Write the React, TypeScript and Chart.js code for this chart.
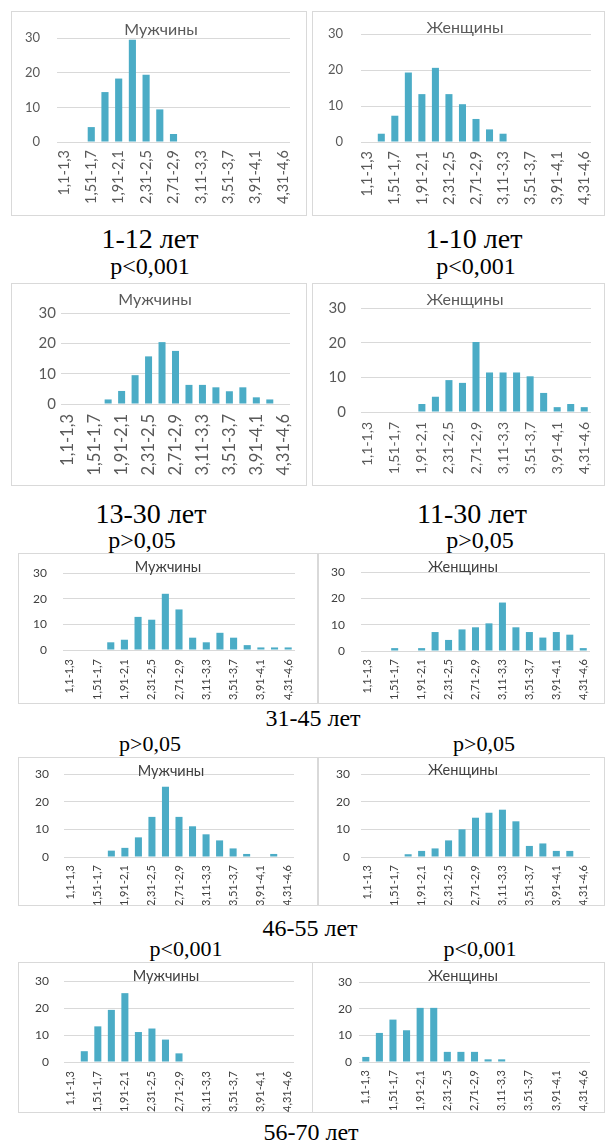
import React, { useEffect, useRef } from "react";
import { Chart, registerables } from "chart.js";
Chart.register(...registerables);

// ---------- data ----------
const binLabels = [
  "1,1-1,3", "1,31-1,5", "1,51-1,7", "1,71-1,9", "1,91-2,1", "2,11-2,3",
  "2,31-2,5", "2,51-2,7", "2,71-2,9", "2,91-3,1", "3,11-3,3", "3,31-3,5",
  "3,51-3,7", "3,71-3,9", "3,91-4,1", "4,11-4,3", "4,31-4,6",
];
const yTicks = [0, 10, 20, 30];

const male1_12 = [0, 0, 4.3, 14.4, 18.3, 29.5, 19.4, 9.4, 2.3, 0, 0, 0, 0, 0, 0, 0, 0];
const female1_10 = [0, 2.3, 7.3, 19.3, 13.3, 20.6, 13.3, 10.5, 6.4, 3.5, 2.3, 0, 0, 0, 0, 0, 0];
const male13_30 = [0, 0, 0, 1.5, 4.3, 9.5, 15.7, 20.4, 17.5, 6.3, 6.3, 5.5, 4.2, 5.5, 2.2, 1.5, 0];
const female11_30 = [0, 0, 0, 0, 2.3, 4.4, 9.2, 8.4, 20.2, 11.4, 11.4, 11.4, 10.3, 5.5, 1.4, 2.3, 1.4];
const male31_45 = [0, 0, 0, 3.0, 4.0, 12.9, 11.8, 21.9, 15.8, 4.8, 3.0, 6.7, 4.8, 1.9, 1.0, 1.0, 1.0];
const female31_45 = [0, 0, 1.1, 0, 1.1, 7.2, 4.2, 8.2, 9.0, 10.5, 18.4, 9.0, 7.2, 5.1, 7.2, 6.2, 1.1];
const male46_55 = [0, 0, 0, 2.3, 3.3, 7.1, 14.5, 25.4, 14.5, 11.1, 8.2, 6.0, 3.1, 1.1, 0, 1.1, 0];
const female46_55 = [0, 0, 0, 1.0, 2.2, 3.1, 6.0, 10.0, 14.2, 16.0, 17.1, 12.9, 4.0, 4.9, 2.2, 2.2, 0];
const male56_70 = [0, 4.0, 13.2, 19.3, 25.5, 11.1, 12.4, 8.3, 3.2, 0, 0, 0, 0, 0, 0, 0, 0];
const female56_70 = [1.9, 10.9, 15.9, 11.9, 20.3, 20.3, 3.8, 3.8, 3.8, 1.0, 1.0, 0, 0, 0, 0, 0, 0];

const titleMale = "Мужчины";
const titleFemale = "Женщины";

// ---------- styles ----------
const BAR = "#4bacc6";
const GRID = "#d9d9d9";
const TEXT = "#595959";
const TEXT_DARK = "#404040";
const FONT = "Lato, 'Liberation Sans', Arial, sans-serif";
const SERIF = "'Liberation Serif', 'Times New Roman', serif";

type Panel = {
  title: string;
  values: number[];
  box: [number, number, number, number];
  plot: [number, number, number, number];
  titleX: number;
  titleY: number;
  tickSize: number;
  yPad: number;
  xSize: number;
  xPad: number;
  titleSize: number;
  extra: number;
  color: string;
};

const panels: Panel[] = [
  { title: titleMale, values: male1_12, box: [11, 11, 296, 205], plot: [57, 290, 38, 142], titleX: 161, titleY: 30, tickSize: 13, yPad: 17, xSize: 14.5, xPad: 8, titleSize: 16, extra: 0, color: TEXT },
  { title: titleFemale, values: female1_10, box: [312, 11, 293, 205], plot: [361, 591, 34, 142], titleX: 465, titleY: 28, tickSize: 13, yPad: 18, xSize: 14.5, xPad: 9, titleSize: 16, extra: 0, color: TEXT },
  { title: titleMale, values: male13_30, box: [11, 283, 296, 203], plot: [61, 290, 313, 404], titleX: 155, titleY: 300, tickSize: 15, yPad: 5, xSize: 16.5, xPad: 10, titleSize: 16, extra: 0, color: TEXT },
  { title: titleFemale, values: female11_30, box: [312, 283, 293, 203], plot: [361, 591, 308, 412], titleX: 465, titleY: 300, tickSize: 15, yPad: 15, xSize: 14, xPad: 10, titleSize: 16, extra: 0, color: TEXT },
  { title: titleMale, values: male31_45, box: [18, 553, 300, 151], plot: [63, 295, 573, 650], titleX: 168, titleY: 567, tickSize: 12, yPad: 16, xSize: 11, xPad: 9, titleSize: 14.5, extra: 0, color: TEXT_DARK },
  { title: titleFemale, values: female31_45, box: [318, 553, 287, 151], plot: [361, 590, 572, 651], titleX: 463, titleY: 567, tickSize: 12, yPad: 16, xSize: 11, xPad: 8, titleSize: 14.5, extra: 0, color: TEXT_DARK },
  { title: titleMale, values: male46_55, box: [18, 757, 300, 149], plot: [64, 294, 774, 857], titleX: 171, titleY: 771, tickSize: 12, yPad: 15, xSize: 11, xPad: 8, titleSize: 14.5, extra: 20, color: TEXT_DARK },
  { title: titleFemale, values: female46_55, box: [318, 757, 287, 149], plot: [361, 590, 774, 857], titleX: 463, titleY: 770, tickSize: 12, yPad: 11, xSize: 11, xPad: 8, titleSize: 14.5, extra: 20, color: TEXT_DARK },
  { title: titleMale, values: male56_70, box: [18, 962, 296, 151], plot: [64, 294, 981, 1062], titleX: 166, titleY: 976, tickSize: 12, yPad: 15, xSize: 11, xPad: 9, titleSize: 14.5, extra: 20, color: TEXT_DARK },
  { title: titleFemale, values: female56_70, box: [312, 962, 293, 151], plot: [359, 590, 982, 1062], titleX: 463, titleY: 976, tickSize: 12, yPad: 7, xSize: 11, xPad: 8, titleSize: 14.5, extra: 20, color: TEXT_DARK },
];

type Caption = { text: string; cx: number; top: number; size: number };
const captions: Caption[] = [
  { text: "1-12 лет", cx: 150, top: 225, size: 28 },
  { text: "1-10 лет", cx: 474, top: 225, size: 28 },
  { text: "p<0,001", cx: 150, top: 254, size: 24 },
  { text: "p<0,001", cx: 476, top: 254, size: 24 },
  { text: "13-30 лет", cx: 151, top: 500, size: 28 },
  { text: "11-30 лет", cx: 472, top: 500, size: 28 },
  { text: "p>0,05", cx: 142, top: 528, size: 24 },
  { text: "p>0,05", cx: 480, top: 528, size: 24 },
  { text: "31-45 лет", cx: 313, top: 706, size: 24 },
  { text: "p>0,05", cx: 150, top: 733, size: 22 },
  { text: "p>0,05", cx: 484, top: 733, size: 22 },
  { text: "46-55 лет", cx: 310, top: 916, size: 24 },
  { text: "p<0,001", cx: 186, top: 938, size: 22 },
  { text: "p<0,001", cx: 480, top: 938, size: 22 },
  { text: "56-70 лет", cx: 311, top: 1120, size: 24 },
];

const panelTitle = {
  id: "panelTitle",
  afterDraw(chart: any, _args: any, opts: any) {
    const ctx = chart.ctx;
    ctx.save();
    ctx.font = `${opts.size}px ${FONT}`;
    ctx.fillStyle = opts.color;
    ctx.textAlign = "center";
    ctx.textBaseline = "middle";
    ctx.fillText(opts.text, opts.x, opts.y);
    ctx.restore();
  },
};

function ChartPanel({ p }: { p: Panel }) {
  const ref = useRef<HTMLCanvasElement>(null);
  const [bx, by, bw, bh] = p.box;
  const ox = bx + 1;
  const oy = by + 1;
  const cw = bw - 2;
  const ch = bh - 2 + p.extra;

  useEffect(() => {
    const [l, r, t, b] = p.plot;
    const padRight = cw - (r - ox);
    const yWidth = l - ox;
    const chart = new Chart(ref.current as HTMLCanvasElement, {
      type: "bar",
      data: {
        labels: binLabels,
        datasets: [
          {
            data: p.values,
            backgroundColor: BAR,
            borderWidth: 0,
            categoryPercentage: 1,
            barPercentage: 0.52,
          },
        ],
      },
      plugins: [panelTitle],
      options: {
        responsive: false,
        animation: false,
        devicePixelRatio: 1,
        layout: { padding: { left: 0, right: padRight, top: t - oy, bottom: 0 } },
        plugins: {
          legend: { display: false },
          tooltip: { enabled: false },
          title: { display: false },
          panelTitle: { text: p.title, x: p.titleX - ox, y: p.titleY - oy, size: p.titleSize, color: p.color },
        },
        scales: {
          x: {
            offset: true,
            grid: { display: false, drawTicks: false },
            border: { display: false },
            ticks: {
              autoSkip: false,
              minRotation: 90,
              maxRotation: 90,
              color: p.color,
              padding: p.xPad,
              font: { family: FONT, size: p.xSize },
              callback: (_v: any, i: number) => (i % 2 === 0 ? binLabels[i] : ""),
            },
            afterFit: (s: any) => {
              s.height = ch - (b - oy);
              s.paddingLeft = 0;
              s.paddingRight = 0;
            },
          },
          y: {
            min: yTicks[0],
            max: yTicks[yTicks.length - 1],
            grid: { color: GRID, drawTicks: false, lineWidth: 1 },
            border: { display: false },
            ticks: {
              stepSize: yTicks[1] - yTicks[0],
              color: p.color,
              padding: p.yPad,
              font: { family: FONT, size: p.tickSize },
            },
            afterFit: (s: any) => {
              s.width = yWidth;
              s.paddingTop = 0;
              s.paddingBottom = 0;
            },
          },
        },
      },
    } as any);
    return () => chart.destroy();
  }, []);

  return (
    <div
      style={{
        position: "absolute",
        left: bx,
        top: by,
        width: bw,
        height: bh,
        border: "1px solid #d9d9d9",
        boxSizing: "border-box",
        overflow: "hidden",
        background: "#fff",
      }}
    >
      <canvas ref={ref} width={cw} height={ch} style={{ position: "absolute", left: 0, top: 0, width: cw, height: ch }} />
    </div>
  );
}

export default function App() {
  return (
    <div style={{ position: "absolute", left: 0, top: 0, width: 606, height: 1143, background: "#fff", overflow: "hidden" }}>
      {panels.map((p, i) => (
        <ChartPanel key={i} p={p} />
      ))}
      {captions.map((c, i) => (
        <div
          key={"c" + i}
          style={{
            position: "absolute",
            left: c.cx - 150,
            width: 300,
            top: c.top,
            textAlign: "center",
            fontFamily: SERIF,
            fontSize: c.size,
            lineHeight: 1,
            color: "#000",
            whiteSpace: "nowrap",
          }}
        >
          {c.text}
        </div>
      ))}
    </div>
  );
}
